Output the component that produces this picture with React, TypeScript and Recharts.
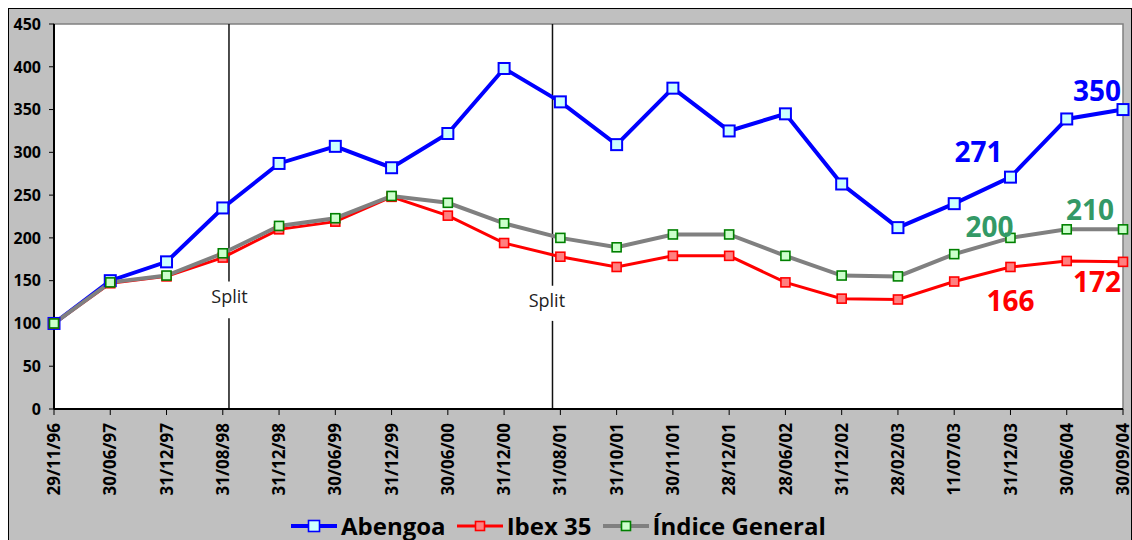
import React from 'react';
import { LineChart, Line, XAxis, YAxis, ReferenceLine, ReferenceArea, ReferenceDot, Legend } from 'recharts';

const categories = ['29/11/96', '30/06/97', '31/12/97', '31/08/98', '31/12/98', '30/06/99', '31/12/99', '30/06/00', '31/12/00', '31/08/01', '31/10/01', '30/11/01', '28/12/01', '28/06/02', '31/12/02', '28/02/03', '11/07/03', '31/12/03', '30/06/04', '30/09/04'];
const abengoa = [100, 150, 172, 235, 287, 307, 282, 322, 398, 359, 309, 375, 325, 345, 263, 212, 240, 271, 339, 350];
const ibex = [100, 147, 155, 177, 210, 219, 248, 226, 194, 178, 166, 179, 179, 148, 129, 128, 149, 166, 173, 172];
const general = [100, 148, 156, 182, 214, 223, 249, 241, 217, 200, 189, 204, 204, 179, 156, 155, 181, 200, 210, 210];
const yTicks = [0, 50, 100, 150, 200, 250, 300, 350, 400, 450];
const xTicks = categories.map((_, i) => i);
// Split markers: position on the category index axis, gap around the label
const splits = [
  { x: 3.11, gapTop: 149, gapBottom: 106, labelX: 3.12, labelY: 131 },
  { x: 8.86, gapTop: 144, gapBottom: 103, labelX: 8.76, labelY: 127 },
];
const abengoaLabelIdx = [17, 19];
const ibexLabelIdx = [17, 19];
const generalLabelIdx = [17, 19];

const data = categories.map((c, i) => ({ i, cat: c, abengoa: abengoa[i], ibex: ibex[i], general: general[i] }));

const FONT = '"Open Sans", sans-serif';

const seriesStyle: Record<string, { stroke: string; fill: string; markStroke: string; size: number; width: number }> = {
  Abengoa: { stroke: '#0000ff', fill: '#ccffff', markStroke: '#0000ff', size: 11, width: 4 },
  'Ibex 35': { stroke: '#ff0000', fill: '#ff8080', markStroke: '#ff0000', size: 9, width: 3 },
  'Índice General': { stroke: '#808080', fill: '#ccffcc', markStroke: '#008000', size: 9, width: 4 },
};

const makeDot = (name: string) => (props: any) => {
  const s = seriesStyle[name];
  const { cx, cy, index } = props;
  if (cx == null || cy == null) return <g key={`d-${name}-${index}`} />;
  return (
    <rect key={`d-${name}-${index}`} x={cx - s.size / 2} y={cy - s.size / 2} width={s.size} height={s.size}
      fill={s.fill} stroke={s.markStroke} strokeWidth={name === 'Abengoa' ? 2 : 1.6} />
  );
};

const makeLabel = (idxs: number[], color: string, offsets: Record<number, [number, number]>) => (props: any) => {
  const { x, y, index, value } = props;
  if (!idxs.includes(index)) return <g key={`l-${color}-${index}`} />;
  const [dx, dy] = offsets[index];
  return (
    <text key={`l-${color}-${index}`} x={x + dx} y={y + dy} textAnchor="middle" dominantBaseline="central"
      fill={color} fontFamily={FONT} fontWeight={700} fontSize={28}>{value}</text>
  );
};

const XTick = (props: any) => {
  const { x, y, payload } = props;
  return (
    <text x={x} y={y} transform={`rotate(-90 ${x} ${y})`} textAnchor="end" dy="0.36em"
      fontFamily={FONT} fontWeight={700} fontSize={17} fill="#000">{categories[payload.value]}</text>
  );
};

const YTick = (props: any) => {
  const { x, y, payload } = props;
  return (
    <text x={x} y={y} textAnchor="end" dy="0.36em" fontFamily={FONT} fontWeight={700} fontSize={16} fill="#000">{payload.value}</text>
  );
};

const renderLegend = (props: any) => {
  const payload = props.payload || [];
  return (
    <div style={{ display: 'flex', alignItems: 'center', fontFamily: FONT, fontWeight: 700, fontSize: 24, color: '#000', whiteSpace: 'nowrap', lineHeight: '30px' }}>
      {payload.map((p: any) => {
        const s = seriesStyle[p.value];
        return (
          <div key={p.value} style={{ display: 'flex', alignItems: 'center', marginRight: 10 }}>
            <svg width={48} height={16} style={{ marginRight: 3 }}>
              <line x1={1} y1={8} x2={47} y2={8} stroke={s.stroke} strokeWidth={s.width} />
              <rect x={24 - s.size / 2} y={8 - s.size / 2} width={s.size} height={s.size} fill={s.fill} stroke={s.markStroke} strokeWidth={1.6} />
            </svg>
            <span>{p.value}</span>
          </div>
        );
      })}
    </div>
  );
};

export default function App() {
  return (
    <div style={{ width: 1124, height: 533, background: '#c0c0c0', border: '1px solid #000', boxSizing: 'border-box', position: 'relative' }}>
      <style>{'html{overflow:hidden;} body{margin:8px 0 0 8px;width:1124px;} #root{width:1124px;}'}</style>
      <LineChart width={1122} height={531} data={data} margin={{ top: 15, right: 8, bottom: 41, left: 0 }} style={{ overflow: 'visible' }}>
        <ReferenceArea x1={0} x2={19} y1={0} y2={450} fill="#ffffff" fillOpacity={1} stroke="#808080" strokeWidth={1.5} ifOverflow="visible" />
        <XAxis type="number" dataKey="i" domain={[0, 19]} ticks={xTicks} interval={0} height={90}
          tick={<XTick />} tickSize={6} tickMargin={8} axisLine={{ stroke: '#000', strokeWidth: 2 }} tickLine={{ stroke: '#000' }} />
        <YAxis type="number" domain={[0, 450]} ticks={yTicks} width={45} interval={0}
          tick={<YTick />} tickSize={5} tickMargin={8} axisLine={{ stroke: '#000', strokeWidth: 2 }} tickLine={{ stroke: '#000' }} />
        {splits.map((s, k) => (
          <ReferenceLine key={`st${k}`} segment={[{ x: s.x, y: 450 }, { x: s.x, y: s.gapTop }]} stroke="#111" strokeWidth={1.5} ifOverflow="visible" />
        ))}
        {splits.map((s, k) => (
          <ReferenceLine key={`sb${k}`} segment={[{ x: s.x, y: s.gapBottom }, { x: s.x, y: 0 }]} stroke="#111" strokeWidth={1.5} ifOverflow="visible" />
        ))}
        {splits.map((s, k) => (
          <ReferenceDot key={`sl${k}`} x={s.labelX} y={s.labelY} r={0} fill="none" stroke="none"
            label={{ value: 'Split', position: 'center', fill: '#222', fontFamily: FONT, fontSize: 18 }} />
        ))}
        <Line name="Abengoa" dataKey="abengoa" stroke="#0000ff" strokeWidth={4} isAnimationActive={false}
          dot={makeDot('Abengoa')} activeDot={false}
          label={makeLabel(abengoaLabelIdx, '#0000ff', { 17: [-32, -26], 19: [-26, -20] })} />
        <Line name="Ibex 35" dataKey="ibex" stroke="#ff0000" strokeWidth={3} isAnimationActive={false}
          dot={makeDot('Ibex 35')} activeDot={false}
          label={makeLabel(ibexLabelIdx, '#ff0000', { 17: [0, 33], 19: [-26, 19] })} />
        <Line name="Índice General" dataKey="general" stroke="#808080" strokeWidth={4} isAnimationActive={false}
          dot={makeDot('Índice General')} activeDot={false}
          label={makeLabel(generalLabelIdx, '#339966', { 17: [-21, -12], 19: [-33, -20] })} />
        <Legend layout="horizontal" verticalAlign="middle" align="center" content={renderLegend}
          wrapperStyle={{ top: 502, left: 281, width: 'auto' }} />
      </LineChart>
    </div>
  );
}
